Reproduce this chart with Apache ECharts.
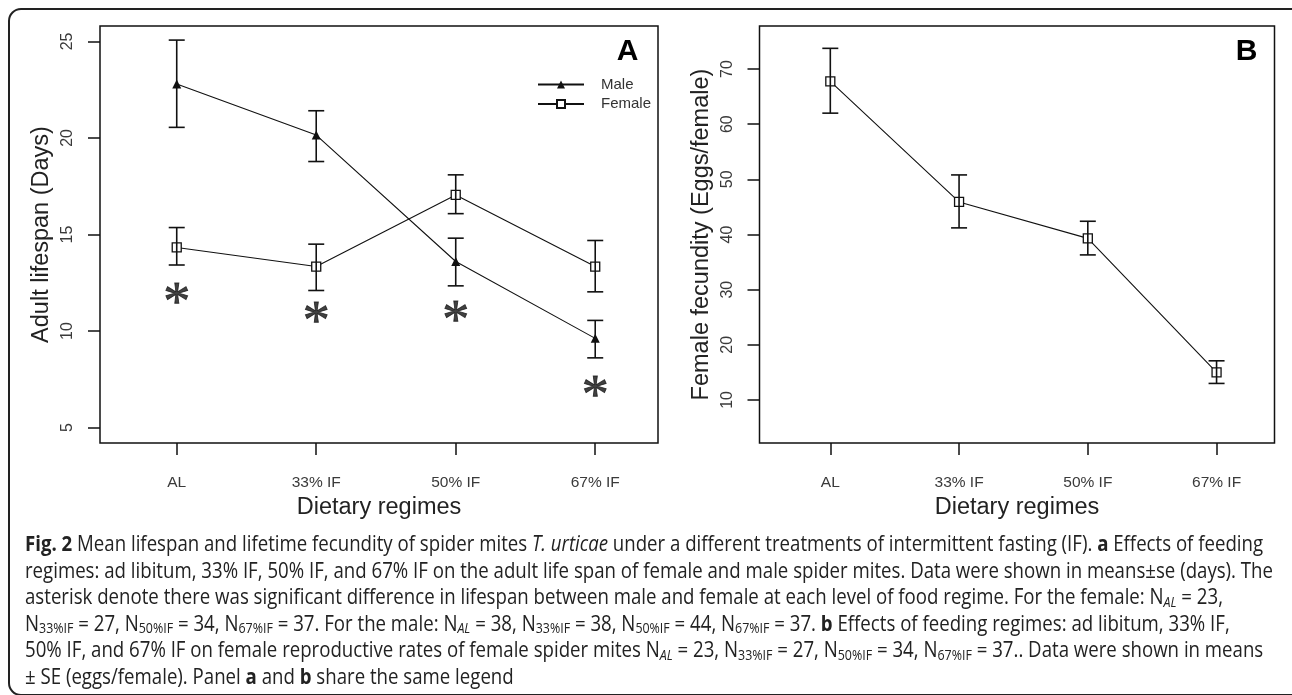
<!DOCTYPE html>
<html>
<head>
<meta charset="utf-8">
<script src="https://cdn.jsdelivr.net/npm/echarts@6/dist/echarts.min.js"></script>
<style>
  html, body { margin: 0; padding: 0; background: #fff; }
  #chart { width: 1292px; height: 695px; }
</style>
</head>
<body>
<div id="chart"></div>
<script>
// Data
const regimes = ['AL', '33% IF', '50% IF', '67% IF'];
const xPos = [1, 2, 3, 4];

const maleLifespan = [22.8, 20.15, 13.6, 9.62];
const maleLow = [20.55, 18.78, 12.34, 8.61];
const maleHigh = [25.07, 21.41, 14.81, 10.55];

const femaleLifespan = [14.33, 13.34, 17.05, 13.34];
const femaleLow = [13.42, 12.1, 16.08, 12.03];
const femaleHigh = [15.36, 14.5, 18.09, 14.69];

const asteriskY = [12.0, 11.0, 11.05, 7.15];

const fecundity = [67.75, 45.9, 39.3, 15.0];
const fecundityLow = [62.0, 41.2, 36.3, 13.0];
const fecundityHigh = [73.75, 50.8, 42.4, 17.1];

const lifespanTicks = [5, 10, 15, 20, 25];
const fecundityTicks = [10, 20, 30, 40, 50, 60, 70];

const captionLines = [
  '{b|Fig. 2} Mean lifespan and lifetime fecundity of spider mites {i|T. urticae} under a different treatments of intermittent fasting (IF). {b|a} Effects of feeding',
  'regimes: ad libitum, 33% IF, 50% IF, and 67% IF on the adult life span of female and male spider mites. Data were shown in means±se (days). The',
  'asterisk denote there was significant difference in lifespan between male and female at each level of food regime. For the female: N{si|AL} = 23,',
  'N{s|33%IF} = 27, N{s|50%IF} = 34, N{s|67%IF} = 37. For the male: N{si|AL} = 38, N{s|33%IF} = 38, N{s|50%IF} = 44, N{s|67%IF} = 37. {b|b} Effects of feeding regimes: ad libitum, 33% IF,',
  '50% IF, and 67% IF on female reproductive rates of female spider mites N{si|AL} = 23, N{s|33%IF} = 27, N{s|50%IF} = 34, N{s|67%IF} = 37.. Data were shown in means',
  '± SE (eggs/female). Panel {b|a} and {b|b} share the same legend'
];

document.addEventListener('DOMContentLoaded', () => {
  const chart = echarts.init(document.getElementById('chart'), null, { renderer: 'canvas' });

  const FONT = '"Liberation Sans", Arial, sans-serif';
  const CAP_FONT = '"Open Sans", sans-serif';
  const INK = '#111';

  // pairs for the library
  const points = (ys) => xPos.map((x, i) => [x, ys[i]]);
  const bars = (lo, hi) => xPos.map((x, i) => [x, lo[i], hi[i]]);

  function errorBarItem(params, api) {
    const x = api.value(0);
    const lo = api.coord([x, api.value(1)]);
    const hi = api.coord([x, api.value(2)]);
    const w = 8;
    const style = { stroke: INK, lineWidth: 1.6 };
    return {
      type: 'group',
      children: [
        { type: 'line', shape: { x1: lo[0], y1: lo[1], x2: hi[0], y2: hi[1] }, style },
        { type: 'line', shape: { x1: lo[0] - w, y1: lo[1], x2: lo[0] + w, y2: lo[1] }, style },
        { type: 'line', shape: { x1: hi[0] - w, y1: hi[1], x2: hi[0] + w, y2: hi[1] }, style }
      ]
    };
  }

  function xAxis(gridIndex) {
    return {
      type: 'value', gridIndex, min: 0.45, max: 4.45,
      name: 'Dietary regimes', nameLocation: 'middle', nameGap: 44,
      nameTextStyle: { fontFamily: FONT, fontSize: 23.5, color: '#222' },
      axisLine: { show: false },
      axisTick: { show: true, customValues: xPos, length: 12, lineStyle: { color: INK, width: 1.5 } },
      axisLabel: {
        customValues: xPos, margin: 32, fontFamily: FONT, fontSize: 15.5, color: '#3a3a3a',
        formatter: v => regimes[Math.round(v) - 1]
      },
      splitLine: { show: false }
    };
  }

  function yAxis(gridIndex, name, min, max, ticks) {
    return {
      type: 'value', gridIndex, min, max,
      name, nameLocation: 'middle', nameGap: 46,
      nameTextStyle: { fontFamily: FONT, fontSize: 23.5, color: '#222' },
      axisLine: { show: false },
      axisTick: { show: true, customValues: ticks, length: 12, lineStyle: { color: INK, width: 1.5 } },
      axisLabel: { customValues: ticks, rotate: 90, margin: 24, fontFamily: FONT, fontSize: 16, color: '#3a3a3a' },
      splitLine: { show: false }
    };
  }

  // caption squeeze so the humanist font runs as narrow as the printed one
  const measureCtx = document.createElement('canvas').getContext('2d');
  measureCtx.font = '21px "Open Sans"';
  const captionScale = 1248 / measureCtx.measureText(captionLines[1]).width;

  const captionRich = {
    b: { fontFamily: CAP_FONT, fontSize: 21, fontWeight: 'bold', lineHeight: 27, fill: '#222' },
    i: { fontFamily: CAP_FONT, fontSize: 21, fontStyle: 'italic', lineHeight: 27, fill: '#222' },
    s: { fontFamily: CAP_FONT, fontSize: 14, lineHeight: 14, verticalAlign: 'bottom', padding: [0, 0, 2, 0], fill: '#222' },
    si: { fontFamily: CAP_FONT, fontSize: 14, fontStyle: 'italic', lineHeight: 14, verticalAlign: 'bottom', padding: [0, 0, 2, 0], fill: '#222' }
  };

  const captionGraphics = captionLines.map((line, i) => ({
    type: 'text',
    x: 25, y: 545 + i * 26.6,
    scaleX: captionScale, scaleY: 1,
    style: {
      text: line, rich: captionRich,
      fontFamily: CAP_FONT, fontSize: 21, lineHeight: 27, fill: '#222',
      verticalAlign: 'middle', align: 'left'
    }
  }));

  const option = {
    backgroundColor: '#fff',
    animation: false,
    grid: [
      { left: 100, top: 26, width: 558, height: 417, show: true, borderColor: INK, borderWidth: 1.5, backgroundColor: 'transparent' },
      { left: 759.5, top: 26, width: 515, height: 417, show: true, borderColor: INK, borderWidth: 1.5, backgroundColor: 'transparent' }
    ],
    xAxis: [xAxis(0), xAxis(1)],
    yAxis: [
      yAxis(0, 'Adult lifespan (Days)', 4.2, 25.8, lifespanTicks),
      yAxis(1, 'Female fecundity (Eggs/female)', 2.2, 77.8, fecundityTicks)
    ],
    legend: {
      data: ['Male', 'Female'],
      orient: 'vertical', left: 532, top: 72,
      itemWidth: 46, itemHeight: 10, itemGap: 4.5,
      textStyle: { fontFamily: FONT, fontSize: 15, color: '#333', padding: [0, 0, 0, 12] }
    },
    series: [
      {
        name: 'Male', type: 'line', xAxisIndex: 0, yAxisIndex: 0,
        data: points(maleLifespan),
        symbol: 'triangle', symbolSize: 9,
        lineStyle: { color: INK, width: 1.1 },
        itemStyle: { color: INK, borderWidth: 0 },
        z: 2
      },
      {
        name: 'Female', type: 'line', xAxisIndex: 0, yAxisIndex: 0,
        data: points(femaleLifespan),
        symbol: 'rect', symbolSize: 9,
        lineStyle: { color: INK, width: 1.1 },
        itemStyle: { color: '#fff', borderColor: INK, borderWidth: 1.3 },
        z: 2
      },
      {
        type: 'custom', xAxisIndex: 0, yAxisIndex: 0,
        data: bars(maleLow, maleHigh), renderItem: errorBarItem, z: 3
      },
      {
        type: 'custom', xAxisIndex: 0, yAxisIndex: 0,
        data: bars(femaleLow, femaleHigh), renderItem: errorBarItem, z: 3
      },
      {
        type: 'scatter', xAxisIndex: 0, yAxisIndex: 0,
        data: points(asteriskY), symbolSize: 0,
        label: {
          show: true, position: 'inside', formatter: '*', offset: [0, 12],
          fontFamily: '"Liberation Serif", serif', fontSize: 54, color: '#111',
          textBorderColor: '#111', textBorderWidth: 0.9
        },
        z: 4
      },
      {
        name: 'Fecundity', type: 'line', xAxisIndex: 1, yAxisIndex: 1,
        data: points(fecundity),
        symbol: 'rect', symbolSize: 9,
        lineStyle: { color: INK, width: 1.1 },
        itemStyle: { color: '#fff', borderColor: INK, borderWidth: 1.3 },
        z: 2
      },
      {
        type: 'custom', xAxisIndex: 1, yAxisIndex: 1,
        data: bars(fecundityLow, fecundityHigh), renderItem: errorBarItem, z: 3
      }
    ],
    graphic: [
      {
        type: 'rect', z: -1,
        shape: { x: 9, y: 9, width: 1296, height: 686, r: 12 },
        style: { fill: 'none', stroke: '#222', lineWidth: 2 }
      },
      {
        type: 'text', x: 627.5, y: 52,
        style: { text: 'A', fontFamily: FONT, fontWeight: 'bold', fontSize: 30, fill: '#000', align: 'center', verticalAlign: 'middle' }
      },
      {
        type: 'text', x: 1246.5, y: 52,
        style: { text: 'B', fontFamily: FONT, fontWeight: 'bold', fontSize: 30, fill: '#000', align: 'center', verticalAlign: 'middle' }
      },
      ...captionGraphics
    ]
  };

  chart.setOption(option);
});
</script>
</body>
</html>
